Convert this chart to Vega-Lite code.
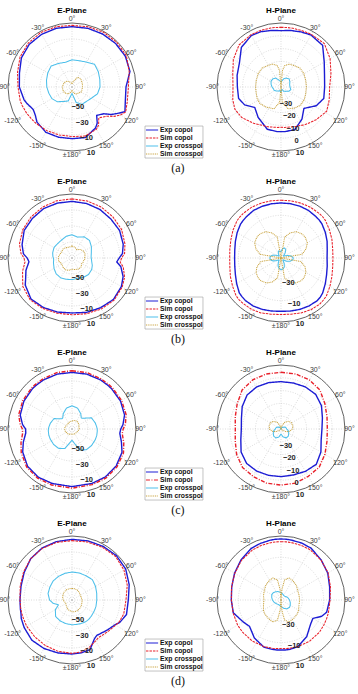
{
  "$schema": "https://vega.github.io/schema/vega-lite/v6.json",
  "background": "white",
  "width": 358,
  "height": 694,
  "autosize": {"type": "fit", "contains": "padding"},
  "padding": 0,
  "config": {"view": {"stroke": null}, "font": "Liberation Sans"},
  "datasets": {
    "fig": [
      {"c": "a", "p": "E", "ring": [-50, -30, -10, 10], "deg": [0, 30, 60, 90, 120, 150, 180, 210, 240, 270, 300, 330], "lab": ["0°", "30°", "60°", "90°", "120°", "150°", "±180°", "-150°", "-120°", "-90°", "-60°", "-30°"]},
      {"c": "a", "p": "H", "ring": [-30, -20, -10, 0, 10], "deg": [0, 30, 60, 90, 120, 150, 180, 210, 240, 270, 300, 330], "lab": ["0°", "30°", "60°", "90°", "120°", "150°", "±180°", "-150°", "-120°", "-90°", "-60°", "-30°"]},
      {"c": "b", "p": "E", "ring": [-50, -30, -10, 10], "deg": [0, 30, 60, 90, 120, 150, 180, 210, 240, 270, 300, 330], "lab": ["0°", "30°", "60°", "90°", "120°", "150°", "±180°", "-150°", "-120°", "-90°", "-60°", "-30°"]},
      {"c": "b", "p": "H", "ring": [-30, -10, 10], "deg": [0, 30, 60, 90, 120, 150, 180, 210, 240, 270, 300, 330], "lab": ["0°", "30°", "60°", "90°", "120°", "150°", "±180°", "-150°", "-120°", "-90°", "-60°", "-30°"]},
      {"c": "c", "p": "E", "ring": [-50, -30, -10, 10], "deg": [0, 30, 60, 90, 120, 150, 180, 210, 240, 270, 300, 330], "lab": ["0°", "30°", "60°", "90°", "120°", "150°", "±180°", "-150°", "-120°", "-90°", "-60°", "-30°"]},
      {"c": "c", "p": "H", "ring": [-30, -20, -10, 0, 10], "deg": [0, 30, 60, 90, 120, 150, 180, 210, 240, 270, 300, 330], "lab": ["0°", "30°", "60°", "90°", "120°", "150°", "±180°", "-150°", "-120°", "-90°", "-60°", "-30°"]},
      {"c": "d", "p": "E", "ring": [-50, -30, -10, 10], "deg": [0, 30, 60, 90, 120, 150, 180, 210, 240, 270, 300, 330], "lab": ["0°", "30°", "60°", "90°", "120°", "150°", "±180°", "-150°", "-120°", "-90°", "-60°", "-30°"]},
      {"c": "d", "p": "H", "ring": [-30, -10, 10], "deg": [0, 30, 60, 90, 120, 150, 180, 210, 240, 270, 300, 330], "lab": ["0°", "30°", "60°", "90°", "120°", "150°", "±180°", "-150°", "-120°", "-90°", "-60°", "-30°"]},
      {"c": "a", "key": ["ec", "sc", "ex", "sx"]},
      {"c": "b", "key": ["ec", "sc", "ex", "sx"]},
      {"c": "c", "key": ["ec", "sd", "ex", "sx"]},
      {"c": "d", "key": ["ec", "sc", "ex", "sx"]},

      {"c": "a", "p": "E", "a": 0, "ec": 5.4, "sc": 7, "ex": -36, "sx": -66},
      {"c": "a", "p": "E", "a": 15, "ec": 6, "sc": 8, "ex": -36, "sx": -62},
      {"c": "a", "p": "E", "a": 30, "ec": 6.5, "sc": 9, "ex": -34, "sx": -56},
      {"c": "a", "p": "E", "a": 45, "ec": 7, "sc": 9, "ex": -30, "sx": -55},
      {"c": "a", "p": "E", "a": 60, "ec": 7, "sc": 8.5, "ex": -32, "sx": -56},
      {"c": "a", "p": "E", "a": 75, "ec": 5, "sc": 4, "ex": -34, "sx": -56.5},
      {"c": "a", "p": "E", "a": 90, "ec": -2.5, "sc": 0.5, "ex": -35, "sx": -57},
      {"c": "a", "p": "E", "a": 105, "ec": -1, "sc": 1.5, "ex": -37, "sx": -57},
      {"c": "a", "p": "E", "a": 115, "ec": 3, "sc": 4},
      {"c": "a", "p": "E", "a": 120, "ec": -4, "sc": 0, "ex": -42, "sx": -57},
      {"c": "a", "p": "E", "a": 125, "ec": -10, "sc": -6},
      {"c": "a", "p": "E", "a": 130, "ec": -18, "sc": -13},
      {"c": "a", "p": "E", "a": 139, "ec": -23, "sc": -19},
      {"c": "a", "p": "E", "a": 145, "ec": -15, "sc": -12},
      {"c": "a", "p": "E", "a": 150, "ec": -11, "sc": -9, "ex": -45, "sx": -60},
      {"c": "a", "p": "E", "a": 165, "ec": -4.6, "sc": -6.5, "ex": -50, "sx": -62},
      {"c": "a", "p": "E", "a": 180, "ec": -5.4, "sc": -8, "ex": -62, "sx": -66},
      {"c": "a", "p": "E", "a": 195, "ec": -5, "sc": -8, "ex": -52, "sx": -63},
      {"c": "a", "p": "E", "a": 210, "ec": -4.6, "sc": -7, "ex": -49, "sx": -60},
      {"c": "a", "p": "E", "a": 225, "ec": -8, "sc": -6, "ex": -44, "sx": -59},
      {"c": "a", "p": "E", "a": 232, "ec": -12, "sc": -5.5},
      {"c": "a", "p": "E", "a": 240, "ec": -14, "sc": -4.5, "ex": -41, "sx": -58},
      {"c": "a", "p": "E", "a": 250, "ec": -10, "sc": -3.5},
      {"c": "a", "p": "E", "a": 255, "ec": -8, "sc": -3, "ex": -40, "sx": -58},
      {"c": "a", "p": "E", "a": 270, "ec": -4.2, "sc": -2.5, "ex": -38.5, "sx": -58},
      {"c": "a", "p": "E", "a": 285, "ec": -2, "sc": 0.5, "ex": -37, "sx": -58.5},
      {"c": "a", "p": "E", "a": 300, "ec": 3, "sc": 5, "ex": -35, "sx": -59},
      {"c": "a", "p": "E", "a": 315, "ec": 5.5, "sc": 7.5, "ex": -33, "sx": -60},
      {"c": "a", "p": "E", "a": 330, "ec": 6, "sc": 8.5, "ex": -36, "sx": -62},
      {"c": "a", "p": "E", "a": 345, "ec": 6, "sc": 8, "ex": -38, "sx": -64},

      {"c": "a", "p": "H", "a": 0, "ec": 4, "sc": 6.6, "ex": -36, "sx": -40},
      {"c": "a", "p": "H", "a": 5, "ec": 4.3, "sc": 6.7, "sx": -27},
      {"c": "a", "p": "H", "a": 10, "ec": 4.8, "sc": 6.8, "sx": -23},
      {"c": "a", "p": "H", "a": 20, "ec": 5.8, "sc": 7, "ex": -33, "sx": -21},
      {"c": "a", "p": "H", "a": 30, "ec": 6.9, "sc": 7.5, "ex": -32, "sx": -20.5},
      {"c": "a", "p": "H", "a": 45, "ec": 6, "sc": 7.9, "ex": -31, "sx": -19},
      {"c": "a", "p": "H", "a": 60, "ec": -1, "sc": 4.3, "ex": -32, "sx": -19.3},
      {"c": "a", "p": "H", "a": 75, "ec": -4.8, "sc": 0.4, "ex": -33, "sx": -20},
      {"c": "a", "p": "H", "a": 90, "ec": -5.9, "sc": -2, "ex": -33, "sx": -20.2},
      {"c": "a", "p": "H", "a": 105, "ec": -5.4, "sc": -1, "ex": -32, "sx": -20},
      {"c": "a", "p": "H", "a": 118, "ec": -8.8, "sc": 0.4, "ex": -33, "sx": -19.3},
      {"c": "a", "p": "H", "a": 133, "ec": -15.5, "sc": -2.5, "ex": -35, "sx": -19},
      {"c": "a", "p": "H", "a": 147, "ec": -10, "sc": -5, "ex": -36, "sx": -20.5},
      {"c": "a", "p": "H", "a": 162, "ec": -5, "sc": -7.3, "ex": -38, "sx": -22},
      {"c": "a", "p": "H", "a": 175, "ec": -5, "sc": -8.3, "sx": -28},
      {"c": "a", "p": "H", "a": 180, "ec": -5.1, "sc": -8.5, "ex": -36, "sx": -40},
      {"c": "a", "p": "H", "a": 185, "ec": -5, "sc": -8.3, "sx": -28},
      {"c": "a", "p": "H", "a": 198, "ec": -5.3, "sc": -7.3, "ex": -37, "sx": -22},
      {"c": "a", "p": "H", "a": 217, "ec": -10.3, "sc": -4.5, "ex": -36, "sx": -20.5},
      {"c": "a", "p": "H", "a": 232, "ec": -14, "sc": -1.2, "ex": -35, "sx": -19},
      {"c": "a", "p": "H", "a": 244, "ec": -8.3, "sc": 0, "ex": -34, "sx": -19.3},
      {"c": "a", "p": "H", "a": 255, "ec": -5.7, "sc": -1, "ex": -34, "sx": -20},
      {"c": "a", "p": "H", "a": 270, "ec": -5.9, "sc": -2.5, "ex": -33, "sx": -20.2},
      {"c": "a", "p": "H", "a": 285, "ec": -4.5, "sc": -1, "ex": -32, "sx": -20},
      {"c": "a", "p": "H", "a": 300, "ec": -2.5, "sc": 3, "ex": -31, "sx": -19.3},
      {"c": "a", "p": "H", "a": 315, "ec": 3.8, "sc": 6.4, "ex": -31, "sx": -19},
      {"c": "a", "p": "H", "a": 330, "ec": 6.4, "sc": 7.1, "ex": -32, "sx": -20.5},
      {"c": "a", "p": "H", "a": 340, "ec": 6, "sc": 7, "ex": -34, "sx": -21},
      {"c": "a", "p": "H", "a": 350, "ec": 4.8, "sc": 6.8, "sx": -23},
      {"c": "a", "p": "H", "a": 355, "ec": 4.3, "sc": 6.7, "sx": -27},

      {"c": "b", "p": "E", "a": 0, "ec": 0.8, "sc": 3.9, "ex": -41, "sx": -55},
      {"c": "b", "p": "E", "a": 15, "ec": 0.5, "sc": 3.7, "ex": -43, "sx": -56},
      {"c": "b", "p": "E", "a": 30, "ec": 0, "sc": 3.5, "ex": -39.5, "sx": -58},
      {"c": "b", "p": "E", "a": 45, "ec": -1.2, "sc": 2.5, "ex": -39, "sx": -55},
      {"c": "b", "p": "E", "a": 60, "ec": -1.3, "sc": 1.5, "ex": -42, "sx": -53},
      {"c": "b", "p": "E", "a": 75, "ec": -3.7, "sc": -1.5, "ex": -45, "sx": -53},
      {"c": "b", "p": "E", "a": 85, "ec": -6.7, "sc": -4, "ex": -46, "sx": -54},
      {"c": "b", "p": "E", "a": 90, "ec": -11, "sc": -8, "ex": -46, "sx": -54},
      {"c": "b", "p": "E", "a": 95, "ec": -13.8, "sc": -9.5, "ex": -45.5, "sx": -54},
      {"c": "b", "p": "E", "a": 100, "ec": -8, "sc": -5, "ex": -45, "sx": -55},
      {"c": "b", "p": "E", "a": 110, "ec": -2, "sc": 0, "ex": -43, "sx": -55},
      {"c": "b", "p": "E", "a": 120, "ec": 1.3, "sc": 2.5, "ex": -41.5, "sx": -56},
      {"c": "b", "p": "E", "a": 135, "ec": 3.3, "sc": 4.5, "ex": -40.8, "sx": -54},
      {"c": "b", "p": "E", "a": 150, "ec": 1.7, "sc": 3.5, "ex": -42, "sx": -54},
      {"c": "b", "p": "E", "a": 165, "ec": 0.4, "sc": 2, "ex": -43.5, "sx": -55},
      {"c": "b", "p": "E", "a": 180, "ec": -1.3, "sc": 1, "ex": -43, "sx": -56},
      {"c": "b", "p": "E", "a": 195, "ec": 0, "sc": 1.5, "ex": -42.5, "sx": -54},
      {"c": "b", "p": "E", "a": 210, "ec": 1.5, "sc": 3, "ex": -41.5, "sx": -53},
      {"c": "b", "p": "E", "a": 225, "ec": 2.5, "sc": 4, "ex": -42, "sx": -54},
      {"c": "b", "p": "E", "a": 240, "ec": -2.5, "sc": 1, "ex": -44, "sx": -55},
      {"c": "b", "p": "E", "a": 245, "ec": -6, "sc": -2, "ex": -45, "sx": -55},
      {"c": "b", "p": "E", "a": 255, "ec": -10.4, "sc": -6, "ex": -46, "sx": -53},
      {"c": "b", "p": "E", "a": 265, "ec": -16, "sc": -11, "ex": -47, "sx": -53},
      {"c": "b", "p": "E", "a": 270, "ec": -14, "sc": -10, "ex": -46.7, "sx": -53},
      {"c": "b", "p": "E", "a": 275, "ec": -9, "sc": -6, "ex": -46, "sx": -53},
      {"c": "b", "p": "E", "a": 285, "ec": -5.4, "sc": -2, "ex": -45, "sx": -54},
      {"c": "b", "p": "E", "a": 300, "ec": -1, "sc": 1, "ex": -44, "sx": -55},
      {"c": "b", "p": "E", "a": 315, "ec": 0, "sc": 2.5, "ex": -44.6, "sx": -54},
      {"c": "b", "p": "E", "a": 330, "ec": 1.2, "sc": 3.5, "ex": -44, "sx": -55},
      {"c": "b", "p": "E", "a": 345, "ec": 1, "sc": 4, "ex": -42, "sx": -56},

      {"c": "b", "p": "H", "a": 0, "ec": 1.6, "sc": 4.2, "ex": -44, "sx": -50},
      {"c": "b", "p": "H", "a": 10, "ec": 1.7, "sc": 4.4, "ex": -41, "sx": -30},
      {"c": "b", "p": "H", "a": 20, "ec": 1.7, "sc": 4.7, "ex": -40, "sx": -25},
      {"c": "b", "p": "H", "a": 30, "ec": 1.5, "sc": 5, "ex": -41, "sx": -21.5},
      {"c": "b", "p": "H", "a": 40, "ec": 0.8, "sc": 5, "ex": -44, "sx": -20.2},
      {"c": "b", "p": "H", "a": 45, "ec": 0.5, "sc": 5, "ex": -46, "sx": -20},
      {"c": "b", "p": "H", "a": 50, "ec": 0, "sc": 4.5, "ex": -47, "sx": -20.2},
      {"c": "b", "p": "H", "a": 60, "ec": -2, "sc": 2.5, "ex": -46, "sx": -21.5},
      {"c": "b", "p": "H", "a": 70, "ec": -4, "sc": 0.8, "ex": -43, "sx": -25},
      {"c": "b", "p": "H", "a": 80, "ec": -6, "sc": -0.8, "ex": -40, "sx": -30},
      {"c": "b", "p": "H", "a": 90, "ec": -6.8, "sc": -1.3, "ex": -38.5, "sx": -50},
      {"c": "b", "p": "H", "a": 100, "ec": -6, "sc": -0.8, "ex": -39, "sx": -31},
      {"c": "b", "p": "H", "a": 110, "ec": -4.5, "sc": 0.8, "ex": -41, "sx": -26},
      {"c": "b", "p": "H", "a": 120, "ec": -2, "sc": 3, "ex": -44, "sx": -23},
      {"c": "b", "p": "H", "a": 130, "ec": 1, "sc": 5.5, "ex": -47, "sx": -21.7},
      {"c": "b", "p": "H", "a": 135, "ec": 2, "sc": 6, "ex": -47.5, "sx": -21.5},
      {"c": "b", "p": "H", "a": 140, "ec": 2.5, "sc": 6.5, "ex": -47, "sx": -21.7},
      {"c": "b", "p": "H", "a": 150, "ec": 2, "sc": 6, "ex": -44, "sx": -23},
      {"c": "b", "p": "H", "a": 160, "ec": 1.3, "sc": 4.8, "ex": -41, "sx": -26},
      {"c": "b", "p": "H", "a": 170, "ec": 0.5, "sc": 3.5, "ex": -39.5, "sx": -31},
      {"c": "b", "p": "H", "a": 180, "ec": 0, "sc": 3, "ex": -39, "sx": -50},
      {"c": "b", "p": "H", "a": 190, "ec": 0.5, "sc": 3.5, "ex": -40, "sx": -31},
      {"c": "b", "p": "H", "a": 200, "ec": 1.3, "sc": 4.8, "ex": -42, "sx": -26},
      {"c": "b", "p": "H", "a": 210, "ec": 2, "sc": 5.5, "ex": -45, "sx": -23},
      {"c": "b", "p": "H", "a": 220, "ec": 2, "sc": 5.5, "ex": -47, "sx": -21.7},
      {"c": "b", "p": "H", "a": 225, "ec": 1.5, "sc": 5.5, "ex": -47.5, "sx": -21.5},
      {"c": "b", "p": "H", "a": 230, "ec": 1, "sc": 5, "ex": -47, "sx": -21.7},
      {"c": "b", "p": "H", "a": 240, "ec": -2, "sc": 2.5, "ex": -45, "sx": -23},
      {"c": "b", "p": "H", "a": 250, "ec": -4.5, "sc": 0.5, "ex": -42, "sx": -26},
      {"c": "b", "p": "H", "a": 260, "ec": -6, "sc": -1.3, "ex": -40, "sx": -31},
      {"c": "b", "p": "H", "a": 270, "ec": -6.5, "sc": -1.9, "ex": -39.5, "sx": -50},
      {"c": "b", "p": "H", "a": 280, "ec": -6, "sc": -1.3, "ex": -40, "sx": -30},
      {"c": "b", "p": "H", "a": 290, "ec": -4.5, "sc": 0, "ex": -42, "sx": -25},
      {"c": "b", "p": "H", "a": 300, "ec": -2.5, "sc": 2, "ex": -45, "sx": -21.5},
      {"c": "b", "p": "H", "a": 310, "ec": -0.5, "sc": 4, "ex": -47, "sx": -20.2},
      {"c": "b", "p": "H", "a": 315, "ec": 0, "sc": 4.5, "ex": -47.5, "sx": -20},
      {"c": "b", "p": "H", "a": 320, "ec": 0.5, "sc": 4.8, "ex": -47, "sx": -20.2},
      {"c": "b", "p": "H", "a": 330, "ec": 1.5, "sc": 5, "ex": -45, "sx": -21.5},
      {"c": "b", "p": "H", "a": 340, "ec": 1.6, "sc": 4.7, "ex": -43, "sx": -25},
      {"c": "b", "p": "H", "a": 350, "ec": 1.6, "sc": 4.4, "ex": -43.5, "sx": -30},

      {"c": "c", "p": "E", "a": 0, "ec": 0.8, "sc": 2.9, "ex": -41, "sx": -60},
      {"c": "c", "p": "E", "a": 15, "ec": 1, "sc": 3, "ex": -43, "sx": -59},
      {"c": "c", "p": "E", "a": 30, "ec": 1, "sc": 2.5, "ex": -48, "sx": -58.5},
      {"c": "c", "p": "E", "a": 40, "ec": 0.7, "sc": 2.2, "ex": -52, "sx": -58.7},
      {"c": "c", "p": "E", "a": 45, "ec": 0.5, "sc": 2, "ex": -51, "sx": -59},
      {"c": "c", "p": "E", "a": 60, "ec": 0, "sc": 1.5, "ex": -42, "sx": -60},
      {"c": "c", "p": "E", "a": 75, "ec": -2, "sc": 0, "ex": -40, "sx": -61},
      {"c": "c", "p": "E", "a": 85, "ec": -6, "sc": -3, "ex": -39, "sx": -61},
      {"c": "c", "p": "E", "a": 90, "ec": -9, "sc": -6, "ex": -38.5, "sx": -61},
      {"c": "c", "p": "E", "a": 95, "ec": -10, "sc": -7, "ex": -38.3, "sx": -61.5},
      {"c": "c", "p": "E", "a": 105, "ec": -6, "sc": -3, "ex": -38, "sx": -62},
      {"c": "c", "p": "E", "a": 115, "ec": -1, "sc": 1, "ex": -38, "sx": -62.5},
      {"c": "c", "p": "E", "a": 130, "ec": 2, "sc": 3.5, "ex": -38, "sx": -63},
      {"c": "c", "p": "E", "a": 145, "ec": 3, "sc": 4.5, "ex": -38.5, "sx": -63},
      {"c": "c", "p": "E", "a": 160, "ec": 2.5, "sc": 4, "ex": -42, "sx": -63},
      {"c": "c", "p": "E", "a": 180, "ec": 2, "sc": 4, "ex": -56, "sx": -64},
      {"c": "c", "p": "E", "a": 200, "ec": 2.5, "sc": 4.5, "ex": -44, "sx": -63},
      {"c": "c", "p": "E", "a": 215, "ec": 3.5, "sc": 5, "ex": -40.5, "sx": -62},
      {"c": "c", "p": "E", "a": 230, "ec": 2.5, "sc": 4, "ex": -40, "sx": -62},
      {"c": "c", "p": "E", "a": 245, "ec": -2, "sc": 0, "ex": -40, "sx": -61.5},
      {"c": "c", "p": "E", "a": 255, "ec": -7, "sc": -4, "ex": -40, "sx": -61},
      {"c": "c", "p": "E", "a": 265, "ec": -12, "sc": -8, "ex": -40.3, "sx": -61},
      {"c": "c", "p": "E", "a": 270, "ec": -12, "sc": -8, "ex": -40.5, "sx": -61},
      {"c": "c", "p": "E", "a": 275, "ec": -8, "sc": -5, "ex": -41, "sx": -61},
      {"c": "c", "p": "E", "a": 285, "ec": -3, "sc": -1, "ex": -42, "sx": -61},
      {"c": "c", "p": "E", "a": 300, "ec": -0.5, "sc": 1, "ex": -44, "sx": -61.5},
      {"c": "c", "p": "E", "a": 315, "ec": 0.5, "sc": 2, "ex": -52, "sx": -62},
      {"c": "c", "p": "E", "a": 320, "ec": 0.7, "sc": 2.2, "ex": -52, "sx": -62},
      {"c": "c", "p": "E", "a": 330, "ec": 1, "sc": 2.5, "ex": -48, "sx": -61},
      {"c": "c", "p": "E", "a": 345, "ec": 1, "sc": 3, "ex": -43, "sx": -60.5},

      {"c": "c", "p": "H", "a": 0, "ec": -3, "sc": 4.3, "ex": -40, "sx": -40},
      {"c": "c", "p": "H", "a": 15, "ec": -2.8, "sc": 4.5, "ex": -39.5, "sx": -37},
      {"c": "c", "p": "H", "a": 30, "ec": -2, "sc": 4.3, "ex": -39, "sx": -34},
      {"c": "c", "p": "H", "a": 45, "ec": -1.7, "sc": 3, "ex": -38, "sx": -31.5},
      {"c": "c", "p": "H", "a": 60, "ec": -3.5, "sc": -0.4, "ex": -37, "sx": -30.5},
      {"c": "c", "p": "H", "a": 75, "ec": -6.5, "sc": -2.8, "ex": -36, "sx": -30.5},
      {"c": "c", "p": "H", "a": 90, "ec": -8, "sc": -3.8, "ex": -35.5, "sx": -31},
      {"c": "c", "p": "H", "a": 105, "ec": -7.5, "sc": -2.8, "ex": -34, "sx": -33},
      {"c": "c", "p": "H", "a": 120, "ec": -4, "sc": -0.4, "ex": -33, "sx": -36},
      {"c": "c", "p": "H", "a": 135, "ec": -1, "sc": 2.2, "ex": -32, "sx": -39},
      {"c": "c", "p": "H", "a": 150, "ec": -1.8, "sc": 2.7, "ex": -32, "sx": -40},
      {"c": "c", "p": "H", "a": 165, "ec": -2.8, "sc": 3.8, "ex": -33.5, "sx": -40},
      {"c": "c", "p": "H", "a": 180, "ec": -2.8, "sc": 3.8, "ex": -36, "sx": -40},
      {"c": "c", "p": "H", "a": 195, "ec": -2.5, "sc": 3.8, "ex": -33.5, "sx": -40},
      {"c": "c", "p": "H", "a": 210, "ec": -2, "sc": 3, "ex": -32, "sx": -40},
      {"c": "c", "p": "H", "a": 225, "ec": -2, "sc": 2.5, "ex": -32, "sx": -39},
      {"c": "c", "p": "H", "a": 240, "ec": -4, "sc": 0, "ex": -33, "sx": -36},
      {"c": "c", "p": "H", "a": 255, "ec": -7.5, "sc": -3, "ex": -34, "sx": -33},
      {"c": "c", "p": "H", "a": 270, "ec": -9, "sc": -4.3, "ex": -35.5, "sx": -31},
      {"c": "c", "p": "H", "a": 285, "ec": -8, "sc": -3, "ex": -36, "sx": -30.5},
      {"c": "c", "p": "H", "a": 300, "ec": -5, "sc": -0.5, "ex": -37, "sx": -30.5},
      {"c": "c", "p": "H", "a": 315, "ec": -2.5, "sc": 3, "ex": -38, "sx": -31.5},
      {"c": "c", "p": "H", "a": 330, "ec": -2, "sc": 4.3, "ex": -39, "sx": -34},
      {"c": "c", "p": "H", "a": 345, "ec": -2.5, "sc": 4.5, "ex": -39.5, "sx": -37},

      {"c": "d", "p": "E", "a": 0, "ec": 5.8, "sc": 4.2, "ex": -35, "sx": -55.5},
      {"c": "d", "p": "E", "a": 15, "ec": 6.5, "sc": 5, "ex": -35, "sx": -55.5},
      {"c": "d", "p": "E", "a": 30, "ec": 7.5, "sc": 6, "ex": -35, "sx": -56},
      {"c": "d", "p": "E", "a": 45, "ec": 8.5, "sc": 7, "ex": -34, "sx": -57},
      {"c": "d", "p": "E", "a": 60, "ec": 7.5, "sc": 5, "ex": -36, "sx": -58},
      {"c": "d", "p": "E", "a": 75, "ec": 4, "sc": 1.5, "ex": -38, "sx": -58},
      {"c": "d", "p": "E", "a": 90, "ec": 0.4, "sc": -2.5, "ex": -39, "sx": -57.5},
      {"c": "d", "p": "E", "a": 105, "ec": 0.5, "sc": -3, "ex": -39, "sx": -57},
      {"c": "d", "p": "E", "a": 115, "ec": -4, "sc": -5, "ex": -39, "sx": -57},
      {"c": "d", "p": "E", "a": 120, "ec": -7.9, "sc": -7, "ex": -39, "sx": -56.5},
      {"c": "d", "p": "E", "a": 130, "ec": -12, "sc": -10, "ex": -38.5, "sx": -56},
      {"c": "d", "p": "E", "a": 140, "ec": -15, "sc": -12, "ex": -38, "sx": -55.5},
      {"c": "d", "p": "E", "a": 145, "ec": -16, "sc": -12.5, "ex": -38, "sx": -55.5},
      {"c": "d", "p": "E", "a": 150, "ec": -14, "sc": -11, "ex": -38, "sx": -55},
      {"c": "d", "p": "E", "a": 160, "ec": -4, "sc": -7, "ex": -38.5, "sx": -55},
      {"c": "d", "p": "E", "a": 170, "ec": -3, "sc": -4, "ex": -39, "sx": -55},
      {"c": "d", "p": "E", "a": 180, "ec": -2.5, "sc": -3.3, "ex": -39, "sx": -55.5},
      {"c": "d", "p": "E", "a": 195, "ec": -1.5, "sc": -3.5, "ex": -39.5, "sx": -56.5},
      {"c": "d", "p": "E", "a": 210, "ec": 0, "sc": -4, "ex": -40, "sx": -58},
      {"c": "d", "p": "E", "a": 225, "ec": 1, "sc": -4.5, "ex": -41, "sx": -60},
      {"c": "d", "p": "E", "a": 240, "ec": -1, "sc": -4.5, "ex": -46, "sx": -61},
      {"c": "d", "p": "E", "a": 250, "ec": -2.5, "sc": -5, "ex": -52, "sx": -61},
      {"c": "d", "p": "E", "a": 255, "ec": -4, "sc": -5, "ex": -50, "sx": -60.5},
      {"c": "d", "p": "E", "a": 260, "ec": -4.5, "sc": -5, "ex": -46, "sx": -60},
      {"c": "d", "p": "E", "a": 270, "ec": -5, "sc": -5, "ex": -42, "sx": -59},
      {"c": "d", "p": "E", "a": 285, "ec": -4, "sc": -3, "ex": -39, "sx": -58},
      {"c": "d", "p": "E", "a": 300, "ec": -1, "sc": 0, "ex": -38, "sx": -57},
      {"c": "d", "p": "E", "a": 315, "ec": 3, "sc": 3, "ex": -36.5, "sx": -56},
      {"c": "d", "p": "E", "a": 330, "ec": 5, "sc": 4.5, "ex": -36, "sx": -55.5},
      {"c": "d", "p": "E", "a": 345, "ec": 5.5, "sc": 4.5, "ex": -35.5, "sx": -55.5},

      {"c": "d", "p": "H", "a": 0, "ec": 7.2, "sc": 4.7, "ex": -43, "sx": -50},
      {"c": "d", "p": "H", "a": 5, "ec": 7.2, "sc": 4.7, "sx": -40},
      {"c": "d", "p": "H", "a": 10, "ec": 7, "sc": 4.7, "sx": -31},
      {"c": "d", "p": "H", "a": 20, "ec": 6.8, "sc": 4.6, "ex": -44.5, "sx": -28},
      {"c": "d", "p": "H", "a": 30, "ec": 6.2, "sc": 4.5, "ex": -45, "sx": -28.5},
      {"c": "d", "p": "H", "a": 45, "ec": 3.2, "sc": 3, "ex": -45, "sx": -30},
      {"c": "d", "p": "H", "a": 60, "ec": 0.6, "sc": 1, "ex": -44, "sx": -32},
      {"c": "d", "p": "H", "a": 75, "ec": -2.8, "sc": -2, "ex": -43, "sx": -32.5},
      {"c": "d", "p": "H", "a": 90, "ec": -4.4, "sc": -4, "ex": -42, "sx": -32.5},
      {"c": "d", "p": "H", "a": 105, "ec": -5.7, "sc": -4, "ex": -41, "sx": -32.5},
      {"c": "d", "p": "H", "a": 112, "ec": -9, "sc": -3.8, "sx": -32},
      {"c": "d", "p": "H", "a": 120, "ec": -15.5, "sc": -3.5, "ex": -40, "sx": -31},
      {"c": "d", "p": "H", "a": 130, "ec": -14, "sc": -3, "ex": -39.5, "sx": -30},
      {"c": "d", "p": "H", "a": 145, "ec": -8, "sc": -3, "ex": -40, "sx": -29},
      {"c": "d", "p": "H", "a": 160, "ec": -3.5, "sc": -3.5, "ex": -41.5, "sx": -28},
      {"c": "d", "p": "H", "a": 170, "ec": -3, "sc": -4, "sx": -31},
      {"c": "d", "p": "H", "a": 175, "ec": -3, "sc": -4.3, "sx": -40},
      {"c": "d", "p": "H", "a": 180, "ec": -3.1, "sc": -4.5, "ex": -44, "sx": -50},
      {"c": "d", "p": "H", "a": 185, "ec": -3, "sc": -4.3, "sx": -40},
      {"c": "d", "p": "H", "a": 190, "ec": -3, "sc": -4, "sx": -31},
      {"c": "d", "p": "H", "a": 200, "ec": -3, "sc": -3.5, "ex": -45, "sx": -28},
      {"c": "d", "p": "H", "a": 215, "ec": -6.5, "sc": -3, "ex": -45, "sx": -29},
      {"c": "d", "p": "H", "a": 230, "ec": -11.5, "sc": -3, "ex": -44.5, "sx": -30},
      {"c": "d", "p": "H", "a": 240, "ec": -9, "sc": -3, "ex": -44, "sx": -31},
      {"c": "d", "p": "H", "a": 255, "ec": -3.7, "sc": -3.5, "ex": -43, "sx": -33},
      {"c": "d", "p": "H", "a": 270, "ec": -3.4, "sc": -3.5, "ex": -42, "sx": -34},
      {"c": "d", "p": "H", "a": 285, "ec": -2.2, "sc": -2, "ex": -41, "sx": -33},
      {"c": "d", "p": "H", "a": 300, "ec": 0.3, "sc": 0, "ex": -40, "sx": -32},
      {"c": "d", "p": "H", "a": 315, "ec": 3.1, "sc": 2.5, "ex": -40, "sx": -30},
      {"c": "d", "p": "H", "a": 330, "ec": 5.9, "sc": 4, "ex": -41, "sx": -28.5},
      {"c": "d", "p": "H", "a": 340, "ec": 6.5, "sc": 4.4, "ex": -41.5, "sx": -28},
      {"c": "d", "p": "H", "a": 350, "ec": 7, "sc": 4.6, "sx": -31},
      {"c": "d", "p": "H", "a": 355, "ec": 7.2, "sc": 4.7, "sx": -40}
    ]
  },
  "data": {"name": "fig"},
  "transform": [
    {"calculate": "datum.p == 'E' ? 0 : 1", "as": "col"},
    {"calculate": "indexof(['a', 'b', 'c', 'd'], datum.c)", "as": "row"},
    {"calculate": "1.125 + 3.2656 * datum.col", "as": "cx"},
    {"calculate": "9.4844 - 2.6719 * datum.row", "as": "cy"},
    {"calculate": "datum.p == 'E' ? -70 : (datum.c == 'a' || datum.c == 'c' ? -40 : -50)", "as": "rmin"}
  ],
  "encoding": {
    "x": {"type": "quantitative", "scale": {"domain": [0, 5.59375], "nice": false, "zero": false}, "axis": null},
    "y": {"type": "quantitative", "scale": {"domain": [0, 10.84375], "nice": false, "zero": false}, "axis": null}
  },
  "layer": [
    {
      "transform": [{"filter": "isValid(datum.ring)"}, {"flatten": ["ring"]}, {"filter": "datum.ring < 10"}, {"calculate": "(datum.ring - datum.rmin) / (10 - datum.rmin)", "as": "rn"}],
      "mark": {"type": "point", "shape": "circle", "filled": false, "opacity": 1, "stroke": "#c4c4c4", "strokeWidth": 0.6, "strokeDash": [1, 1.5]},
      "encoding": {
        "x": {"field": "cx", "type": "quantitative"},
        "y": {"field": "cy", "type": "quantitative"},
        "size": {"field": "rn", "type": "quantitative", "scale": {"type": "pow", "exponent": 2, "domain": [0, 1], "range": [0, 16384]}, "legend": null}
      }
    },
    {
      "transform": [{"filter": "isValid(datum.deg)"}, {"flatten": ["deg", "lab"]}, {"calculate": "datum.cx + sin(datum.deg * PI / 180)", "as": "ex2"}, {"calculate": "datum.cy + cos(datum.deg * PI / 180)", "as": "ey2"}],
      "mark": {"type": "rule", "stroke": "#c4c4c4", "strokeWidth": 0.6, "strokeDash": [1, 1.5]},
      "encoding": {
        "x": {"field": "cx", "type": "quantitative"},
        "y": {"field": "cy", "type": "quantitative"},
        "x2": {"field": "ex2"},
        "y2": {"field": "ey2"}
      }
    },
    {
      "transform": [{"filter": "isValid(datum.ring)"}, {"flatten": ["ring"]}, {"filter": "datum.ring == 10"}, {"calculate": "(datum.ring - datum.rmin) / (10 - datum.rmin)", "as": "rn"}],
      "mark": {"type": "point", "shape": "circle", "filled": false, "opacity": 1, "stroke": "#3a3a3a", "strokeWidth": 0.8},
      "encoding": {
        "x": {"field": "cx", "type": "quantitative"},
        "y": {"field": "cy", "type": "quantitative"},
        "size": {"field": "rn", "type": "quantitative", "legend": null}
      }
    },
    {
      "transform": [
        {"filter": "isValid(datum.a)"},
        {"fold": ["ec", "sc", "ex", "sx"], "as": ["k", "d"]},
        {"filter": "isValid(datum.d)"},
        {"calculate": "datum.c == 'c' && datum.k == 'sc' ? 'sd' : datum.k", "as": "s"},
        {"calculate": "max(0, (datum.d - datum.rmin) / (10 - datum.rmin))", "as": "rn"},
        {"calculate": "datum.cx + datum.rn * sin(datum.a * PI / 180)", "as": "px"},
        {"calculate": "datum.cy + datum.rn * cos(datum.a * PI / 180)", "as": "py"}
      ],
      "mark": {"type": "line", "interpolate": "linear-closed", "strokeJoin": "round"},
      "encoding": {
        "x": {"field": "px", "type": "quantitative"},
        "y": {"field": "py", "type": "quantitative"},
        "order": {"field": "a", "type": "quantitative"},
        "detail": [{"field": "c", "type": "nominal"}, {"field": "p", "type": "nominal"}],
        "color": {"field": "s", "type": "nominal", "scale": {"domain": ["ec", "sc", "sd", "ex", "sx"], "range": ["#1c1cd4", "#e8202a", "#e8202a", "#4cbfea", "#c8a23c"]}, "legend": null},
        "strokeDash": {"field": "s", "type": "nominal", "scale": {"domain": ["ec", "sc", "sd", "ex", "sx"], "range": [[1, 0], [2.5, 1], [4, 1.5, 1, 1.5], [1, 0], [1, 0.8]]}, "legend": null},
        "strokeWidth": {"condition": {"test": "datum.s == 'ec' || datum.s == 'sd'", "value": 1.4}, "value": 1.05}
      }
    },
    {
      "transform": [{"filter": "isValid(datum.deg)"}, {"flatten": ["deg", "lab"]}, {"calculate": "datum.cx + 1.07 * sin(datum.deg * PI / 180)", "as": "lx"}, {"calculate": "datum.cy + 1.065 * cos(datum.deg * PI / 180)", "as": "ly"}],
      "mark": {"type": "text", "fontSize": 7, "fill": "#3c3c3c", "clip": true},
      "encoding": {
        "x": {"field": "lx", "type": "quantitative"},
        "y": {"field": "ly", "type": "quantitative"},
        "text": {"field": "lab", "type": "nominal"}
      }
    },
    {
      "transform": [{"filter": "isValid(datum.ring)"}, {"flatten": ["ring"]}, {"calculate": "(datum.ring - datum.rmin) / (10 - datum.rmin) + 0.078", "as": "tr"}, {"calculate": "datum.cx + datum.tr * sin(164 * PI / 180)", "as": "tx"}, {"calculate": "datum.cy + datum.tr * cos(164 * PI / 180)", "as": "ty"}],
      "mark": {"type": "text", "fontSize": 7.5, "fontWeight": "bold", "fill": "#262626", "clip": true},
      "encoding": {
        "x": {"field": "tx", "type": "quantitative"},
        "y": {"field": "ty", "type": "quantitative"},
        "text": {"field": "ring", "type": "quantitative"}
      }
    },
    {
      "transform": [{"filter": "isValid(datum.ring)"}, {"calculate": "datum.p + '-Plane'", "as": "ttl"}, {"calculate": "datum.cy + 1.19", "as": "tty"}],
      "mark": {"type": "text", "fontSize": 8, "fontWeight": "bold", "fill": "#000000", "clip": true},
      "encoding": {
        "x": {"field": "cx", "type": "quantitative"},
        "y": {"field": "tty", "type": "quantitative"},
        "text": {"field": "ttl", "type": "nominal"}
      }
    },
    {
      "transform": [{"filter": "isValid(datum.ring) && datum.p == 'H'"}, {"calculate": "'(' + datum.c + ')'", "as": "cap"}, {"calculate": "datum.cx - 1.61", "as": "capx"}, {"calculate": "datum.cy - 1.266", "as": "capy"}],
      "mark": {"type": "text", "font": "Liberation Serif", "fontSize": 12, "fill": "#111111", "clip": true},
      "encoding": {
        "x": {"field": "capx", "type": "quantitative"},
        "y": {"field": "capy", "type": "quantitative"},
        "text": {"field": "cap", "type": "nominal"}
      }
    },
    {
      "transform": [{"filter": "isValid(datum.key)"}, {"calculate": "datum.cx - 2.125", "as": "bx1"}, {"calculate": "datum.cx - 1.219", "as": "bx2"}, {"calculate": "datum.cy - 0.61", "as": "by1"}, {"calculate": "datum.cy - 1.11", "as": "by2"}],
      "mark": {"type": "rect", "fill": "#ffffff", "stroke": "#9a9a9a", "strokeWidth": 0.6},
      "encoding": {
        "x": {"field": "bx1", "type": "quantitative"},
        "x2": {"field": "bx2"},
        "y": {"field": "by1", "type": "quantitative"},
        "y2": {"field": "by2"}
      }
    },
    {
      "transform": [{"filter": "isValid(datum.key)"}, {"flatten": ["key"]}, {"calculate": "datum.key", "as": "s"}, {"calculate": "indexof(['ec', 'sc', 'ex', 'sx'], datum.s == 'sd' ? 'sc' : datum.s)", "as": "li"}, {"calculate": "datum.cy - 0.672 - 0.125 * datum.li", "as": "ly"}, {"calculate": "datum.cx - 2.11", "as": "lx1"}, {"calculate": "datum.cx - 1.92", "as": "lx2"}],
      "mark": {"type": "rule", "strokeWidth": 1.2},
      "encoding": {
        "x": {"field": "lx1", "type": "quantitative"},
        "x2": {"field": "lx2"},
        "y": {"field": "ly", "type": "quantitative"},
        "color": {"field": "s", "type": "nominal", "legend": null},
        "strokeDash": {"field": "s", "type": "nominal", "legend": null}
      }
    },
    {
      "transform": [{"filter": "isValid(datum.key)"}, {"flatten": ["key"]}, {"calculate": "indexof(['ec', 'sc', 'ex', 'sx'], datum.key == 'sd' ? 'sc' : datum.key)", "as": "li"}, {"calculate": "['Exp copol', 'Sim copol', 'Exp crosspol', 'Sim crosspol'][datum.li]", "as": "nm"}, {"calculate": "datum.cy - 0.672 - 0.125 * datum.li", "as": "ly"}, {"calculate": "datum.cx - 1.89", "as": "lx"}],
      "mark": {"type": "text", "align": "left", "fontSize": 6.8, "fontWeight": "bold", "fill": "#111111", "clip": true},
      "encoding": {
        "x": {"field": "lx", "type": "quantitative"},
        "y": {"field": "ly", "type": "quantitative"},
        "text": {"field": "nm", "type": "nominal"}
      }
    }
  ]
}
